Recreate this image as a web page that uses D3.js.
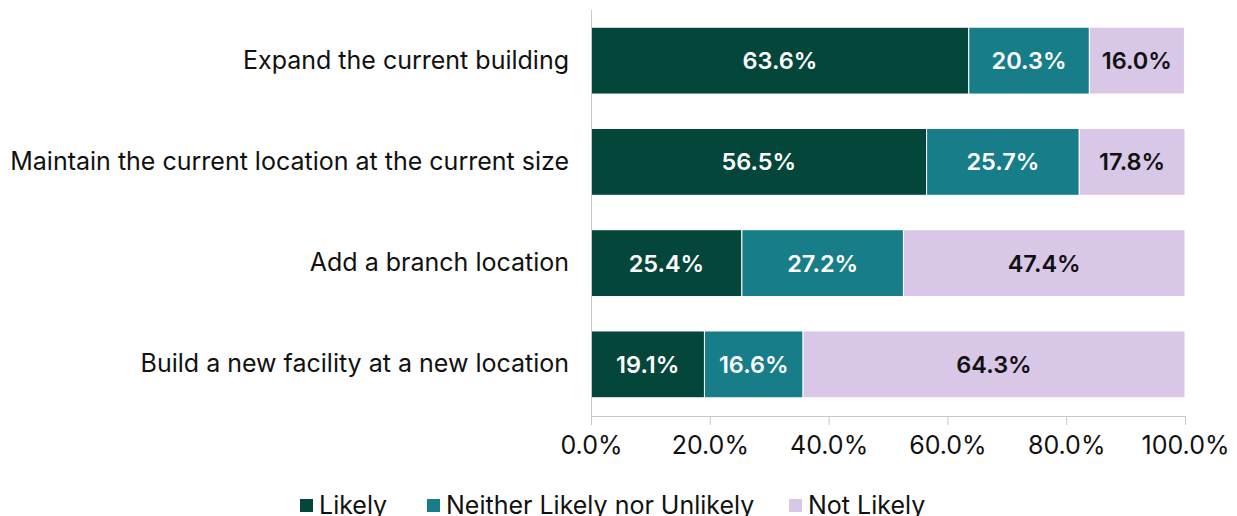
<!DOCTYPE html>
<html>
<head>
<meta charset="utf-8">
<script src="https://cdn.jsdelivr.net/npm/d3@7"></script>
<style>
  body { margin: 0; background: #fff; }
  svg text { font-family: "Inter", "Roboto", sans-serif; }
</style>
</head>
<body>
<svg id="mainsvg" width="1237" height="516"></svg>
<script>
let categories = [
    "Expand the current building",
    "Maintain the current location at the current size",
    "Add a branch location",
    "Build a new facility at a new location"
];
let seriesNames = ["Likely", "Neither Likely nor Unlikely", "Not Likely"];
let likely = [63.6, 56.5, 25.4, 19.1];
let neither = [20.3, 25.7, 27.2, 16.6];
let notLikely = [16.0, 17.8, 47.4, 64.3];
let tickValues = [0, 20, 40, 60, 80, 100];

let colors = ["#05463a", "#177d88", "#d8c7e6"];
let labelColors = ["#ffffff", "#ffffff", "#111111"];

let svg = d3.select("#mainsvg");
let margin = {left: 591, right: 52, top: 10, bottom: 101};
let width = 1237 - margin.left - margin.right;
let height = 516 - margin.top - margin.bottom;

let g = svg.append("g").attr("transform", "translate(" + margin.left + "," + margin.top + ")");

let x = d3.scaleLinear().domain([0, 100]).range([0, width]);
let y = d3.scaleBand().domain(categories).range([0, height]).paddingInner(0.34).paddingOuter(0.17);

// stack rows
let rows = categories.map((c, i) => ({cat: c, Likely: likely[i], "Neither Likely nor Unlikely": neither[i], "Not Likely": notLikely[i]}));
let stacked = d3.stack().keys(seriesNames)(rows);

// bars
let layers = g.selectAll(".layer").data(stacked).enter()
    .append("g").attr("class", "layer")
    .attr("fill", (d, i) => colors[i]);
layers.selectAll("rect").data(d => d).enter()
    .append("rect")
    .attr("x", d => x(d[0]))
    .attr("y", d => y(d.data.cat))
    .attr("width", d => x(d[1]) - x(d[0]))
    .attr("height", y.bandwidth())
    .attr("stroke", "#ffffff")
    .attr("stroke-width", 1);

// value labels
stacked.forEach((layer, i) => {
    g.selectAll(".lbl" + i).data(layer).enter()
        .append("text")
        .attr("class", "lbl" + i)
        .attr("x", d => (x(d[0]) + x(d[1])) / 2)
        .attr("y", d => y(d.data.cat) + y.bandwidth() / 2)
        .attr("dy", "0.36em")
        .attr("text-anchor", "middle")
        .attr("fill", labelColors[i])
        .attr("font-size", "23.5px")
        .attr("font-weight", 600)
        .text(d => (d[1] - d[0]).toFixed(1) + "%");
});

// x axis
let xAxis = g.append("g").attr("transform", "translate(0," + (height + 1) + ")")
    .call(d3.axisBottom(x).tickValues(tickValues).tickSize(9).tickPadding(9).tickFormat(d => d.toFixed(1) + "%"));
xAxis.select(".domain").attr("stroke", "#c8c8c8");
xAxis.selectAll(".tick line").attr("stroke", "#c8c8c8");
xAxis.selectAll(".tick text").attr("font-size", "25px").attr("fill", "#111").attr("dy", "0.8em");

// y axis
let yAxis = g.append("g")
    .call(d3.axisLeft(y).tickSize(0).tickPadding(22));
yAxis.select(".domain").attr("stroke", "#c8c8c8").attr("d", "M0.5,0V" + (height + 1));
yAxis.selectAll(".tick text").attr("font-size", "25px").attr("fill", "#111");

// legend
let legendX = [300, 427, 789];
let legend = svg.append("g").attr("transform", "translate(0,505)");
seriesNames.forEach((s, i) => {
    legend.append("rect")
        .attr("x", legendX[i]).attr("y", -6)
        .attr("width", 13).attr("height", 13)
        .attr("fill", colors[i]);
    legend.append("text")
        .attr("x", legendX[i] + 19).attr("y", 0)
        .attr("dy", "0.36em")
        .attr("font-size", "25px").attr("fill", "#111")
        .text(s);
});
</script>
</body>
</html>
